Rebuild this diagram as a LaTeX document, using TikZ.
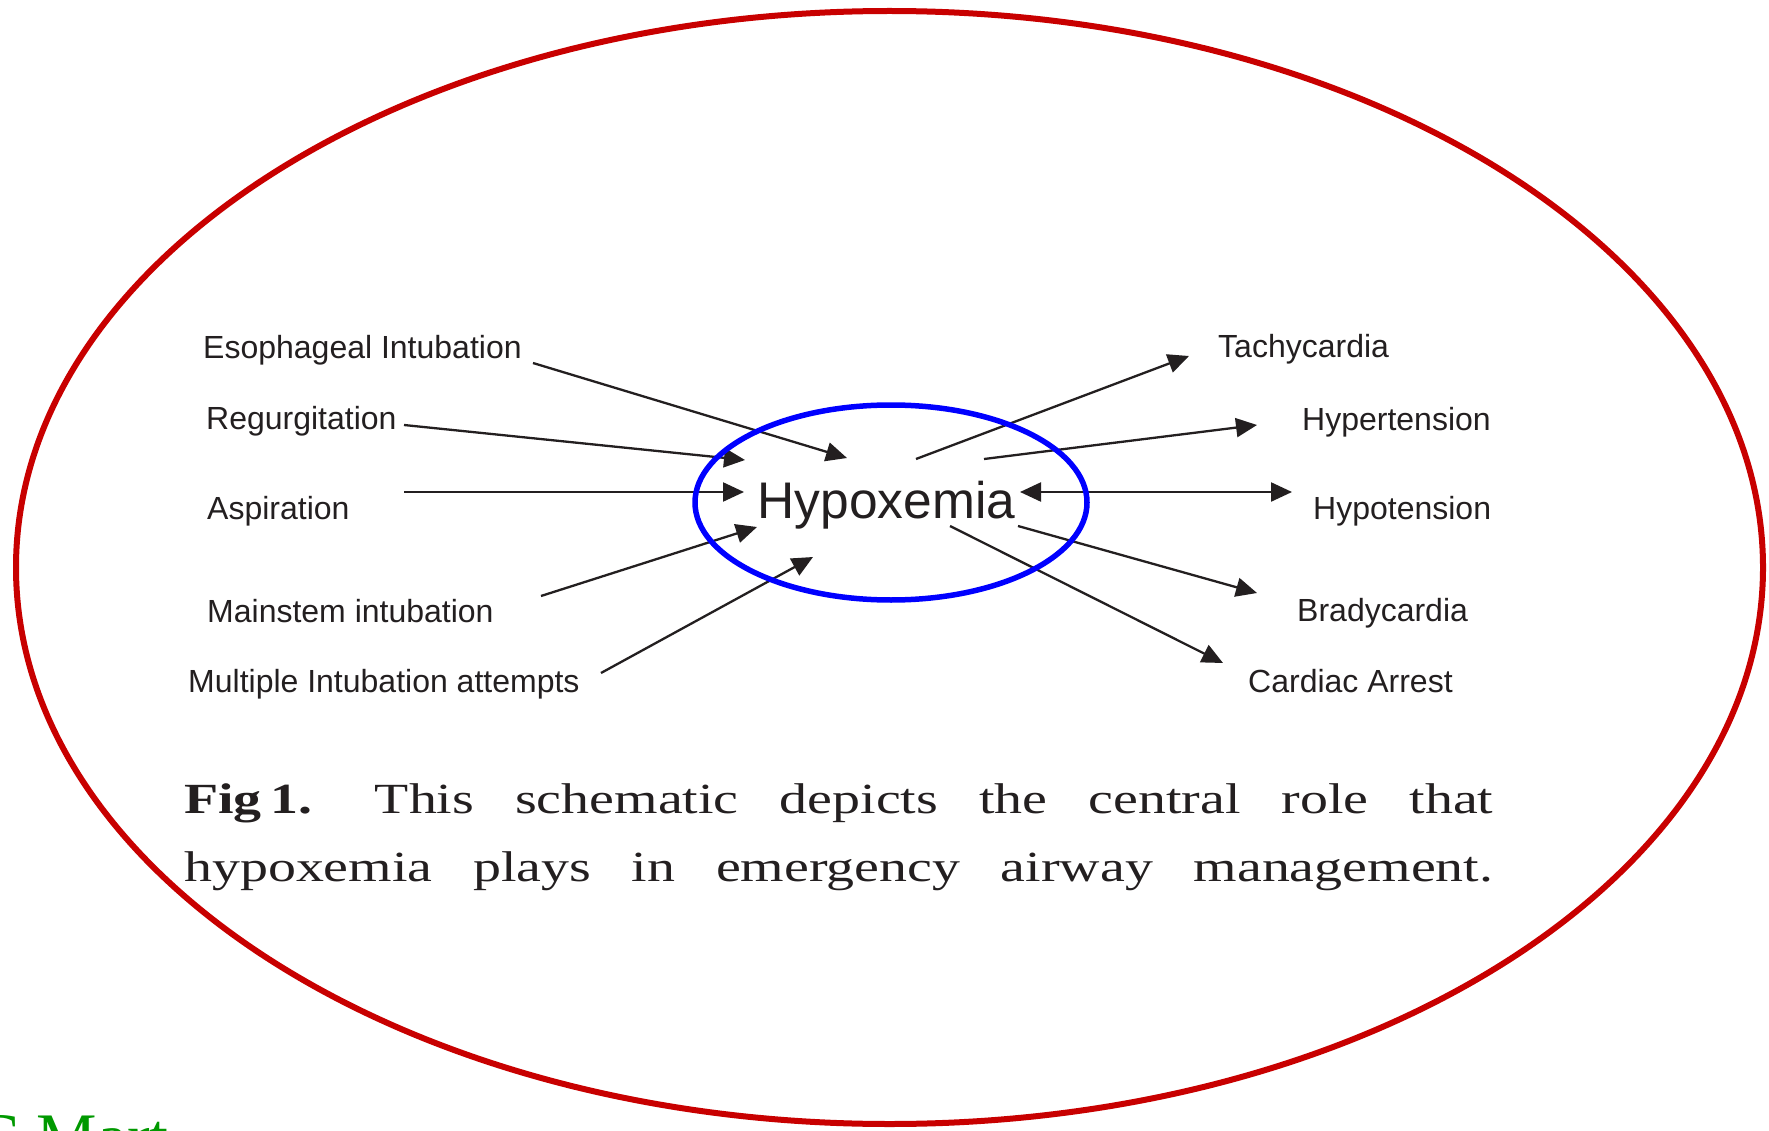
\documentclass[tikz,border=0pt]{standalone}
\usepackage{fontspec}
\usetikzlibrary{arrows.meta}
\newfontfamily\labfont{Liberation Sans}
\newfontfamily\capfont[FakeStretch=1.3]{Liberation Serif}
\newfontfamily\grfont{Liberation Serif}
\definecolor{ink}{RGB}{35,31,32}
\definecolor{ringred}{RGB}{200,0,0}
\definecolor{ringblue}{RGB}{0,0,255}
\definecolor{mygreen}{RGB}{0,153,0}
\begin{document}
\frenchspacing
\begin{tikzpicture}[x=1pt,y=-1pt,
  lab/.style={inner sep=0pt, text=ink, font=\labfont\fontsize{32}{38}\selectfont},
  hub/.style={inner sep=0pt, text=ink, font=\labfont\fontsize{51.5}{60}\selectfont},
  arr/.style={draw=ink, line width=2.3pt, -{Triangle[length=21pt,width=19pt]}},
  darr/.style={draw=ink, line width=2.3pt, {Triangle[length=21pt,width=19pt]}-{Triangle[length=21pt,width=19pt]}},
  capline/.style={inner sep=0pt, anchor=base west, text=ink, font=\capfont\fontsize{43}{50}\selectfont\frenchspacing},
  ring/.style={line width=5.5pt}]
\useasboundingbox (0,0) rectangle (1769,1131);
\clip (0,0) rectangle (1769,1131);
\fill[white] (0,0) rectangle (1769,1131);

% outer red ring
\draw[ring, draw=ringred, line width=6pt] (889.5,567.5) ellipse [x radius=873.5, y radius=556.5];

% labels left
\node[lab, anchor=base west] (eso) at (203,359) {Esophageal Intubation};
\node[lab, anchor=base west] (reg) at (206,429) {Regurgitation};
\node[lab, anchor=base west] (asp) at (207,519) {Aspiration};
\node[lab, anchor=base west] (mai) at (207,622) {Mainstem intubation};
\node[lab, anchor=base west] (mul) at (188,692) {Multiple Intubation attempts};

% labels right
\node[lab, anchor=base west] (tac) at (1218,358) {Tachycardia};
\node[lab, anchor=base west] (hyt) at (1302,430) {Hypertension};
\node[lab, anchor=base west] (hyp) at (1313,519) {Hypotension};
\node[lab, anchor=base west] (bra) at (1297,621) {Bradycardia};
\node[lab, anchor=base west] (car) at (1248,692) {Cardiac Arrest};

% centre
\node[hub, anchor=base] (hyx) at (886.5,518) {Hypoxemia};

% connector end points
\coordinate (e1s) at (533,363);  \coordinate (e1t) at (847,458);
\coordinate (r1s) at (404,425);  \coordinate (r1t) at (745,460);
\coordinate (a1s) at (404,492);  \coordinate (a1t) at (744,492);
\coordinate (m1s) at (541,596);  \coordinate (m1t) at (757,527);
\coordinate (u1s) at (601,673);  \coordinate (u1t) at (813,557);
\coordinate (t2s) at (916,459);  \coordinate (t2t) at (1189,356);
\coordinate (h2s) at (984,459);  \coordinate (h2t) at (1257,425);
\coordinate (p2a) at (1020,492); \coordinate (p2b) at (1292,492);
\coordinate (b2s) at (1018,526); \coordinate (b2t) at (1257,593);
\coordinate (c2s) at (950,526);  \coordinate (c2t) at (1223,663);

\draw[arr] (e1s) -- (e1t);
\draw[arr] (r1s) -- (r1t);
\draw[arr] (a1s) -- (a1t);
\draw[arr] (m1s) -- (m1t);
\draw[arr] (u1s) -- (u1t);
\draw[arr] (t2s) -- (t2t);
\draw[arr] (h2s) -- (h2t);
\draw[darr] (p2a) -- (p2b);
\draw[arr] (b2s) -- (b2t);
\draw[arr] (c2s) -- (c2t);

% blue ring
\draw[ring, draw=ringblue] (891,502.5) ellipse [x radius=196, y radius=97.5];

% caption
\node[capline] (cap1) at (184,813) {\makebox[1309pt][s]{\textbf{Fig\kern0.2em 1.} \kern0.5em This schematic depicts the central role that}};
\node[capline] (cap2) at (184,881) {\makebox[1309pt][s]{hypoxemia plays in emergency airway management.}};

% cut-off green text
\node[inner sep=0pt, anchor=base west, text=mygreen, font=\grfont\fontsize{68}{76}\selectfont] (grn) at (-26,1160) {C Mart};
\end{tikzpicture}
\end{document}
